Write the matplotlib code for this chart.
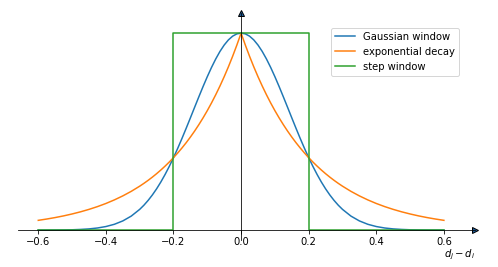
import matplotlib.pyplot as plt

# x positions (right half, the curves are symmetric around 0)
x_half = [0.0, 0.0125, 0.025, 0.0375, 0.05, 0.0625, 0.075, 0.0875, 0.1,
          0.1125, 0.125, 0.1375, 0.15, 0.1625, 0.175, 0.1875, 0.2, 0.2125,
          0.225, 0.2375, 0.25, 0.2625, 0.275, 0.2875, 0.3, 0.325, 0.35,
          0.375, 0.4, 0.425, 0.45, 0.475, 0.5, 0.525, 0.55, 0.575, 0.6]
gauss_half = [1.0, 0.9961, 0.9845, 0.9655, 0.9394, 0.9070, 0.8688, 0.8258,
              0.7788, 0.7288, 0.6766, 0.6234, 0.5698, 0.5168, 0.4650, 0.4152,
              0.3679, 0.3234, 0.2821, 0.2441, 0.2096, 0.1786, 0.1510, 0.1266,
              0.1054, 0.0713, 0.0468, 0.0297, 0.0183, 0.0109, 0.0063, 0.0036,
              0.0019, 0.0010, 0.0005, 0.0003, 0.0001]
expo_half = [1.0, 0.9394, 0.8825, 0.8290, 0.7788, 0.7316, 0.6873, 0.6456,
             0.6065, 0.5698, 0.5353, 0.5028, 0.4724, 0.4437, 0.4169, 0.3916,
             0.3679, 0.3456, 0.3247, 0.3050, 0.2865, 0.2691, 0.2528, 0.2375,
             0.2231, 0.1969, 0.1738, 0.1534, 0.1353, 0.1194, 0.1054, 0.0930,
             0.0821, 0.0724, 0.0639, 0.0564, 0.0498]
step_x = [-0.6, -0.2, -0.2, 0.2, 0.2, 0.6]
step_y = [0, 0, 1, 1, 0, 0]
xticks = [-0.6, -0.4, -0.2, 0.0, 0.2, 0.4, 0.6]

# mirror to the left side
x = [-v for v in reversed(x_half[1:])] + x_half
gauss = list(reversed(gauss_half[1:])) + gauss_half
expo = list(reversed(expo_half[1:])) + expo_half

fig = plt.figure(figsize=(498 / 72, 267 / 72), dpi=72)
ax = fig.add_axes([18 / 498, 27 / 267, 457 / 498, 227 / 267])

ax.plot(x, gauss, label="Gaussian window")
ax.plot(x, expo, label="exponential decay")
ax.plot(step_x, step_y, label="step window")

ax.set_xlim(-0.66, 0.692)
ax.set_ylim(-0.05, 1.102)

# axes through the origin, with arrows
ax.spines["left"].set_position(("data", 0))
ax.spines["bottom"].set_position(("data", 0))
ax.spines["top"].set_visible(False)
ax.spines["right"].set_visible(False)
ax.plot(1, 0, ">", color="#1f5f9f", mec="k", ms=6,
        transform=ax.get_yaxis_transform(), clip_on=False)
ax.plot(0, 1, "^", color="#1f5f9f", mec="k", ms=6,
        transform=ax.get_xaxis_transform(), clip_on=False)

ax.set_yticks([])
ax.set_xticks(xticks)
ax.set_xlabel("$d_j - d_i$", loc="right", labelpad=0)

ax.legend(loc="upper right", bbox_to_anchor=(0.965, 0.934), borderaxespad=0)

fig.savefig("out.png", dpi=72)
